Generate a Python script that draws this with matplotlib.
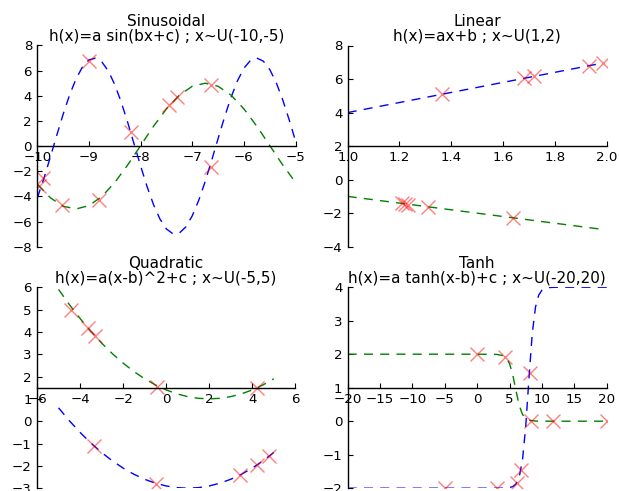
import matplotlib
matplotlib.use("Agg")
import matplotlib.pyplot as plt

# ---------------- data ----------------
titles = [
    "Sinusoidal\nh(x)=a sin(bx+c) ; x~U(-10,-5)",
    "Linear\nh(x)=ax+b ; x~U(1,2)",
    "Quadratic\nh(x)=a(x-b)^2+c ; x~U(-5,5)",
    "Tanh\nh(x)=a tanh(x-b)+c ; x~U(-20,20)",
]

# Sinusoidal
sin_blue_x = [-10 + 0.125 * k for k in range(41)]
sin_blue_y = [-4.126, -2.599, -0.910, 0.835, 2.529, 4.065, 5.349, 6.299, 6.859, 6.992,
              6.690, 5.972, 4.883, 3.490, 1.881, 0.154, -1.582, -3.220, -4.658, -5.806,
              -6.593, -6.970, -6.914, -6.428, -5.542, -4.312, -2.813, -1.140, 0.604, 2.311,
              3.874, 5.196, 6.195, 6.809, 6.999, 6.755, 6.090, 5.047, 3.690, 2.103, 0.386]
sin_green_x = [-10 + 0.25 * k for k in range(21)]
sin_green_y = [-3.026, -4.103, -4.783, -4.999, -4.732, -4.006, -2.892, -1.498, 0.041, 1.577,
               2.959, 4.055, 4.758, 5.000, 4.758, 4.055, 2.959, 1.577, 0.041, -1.498, -2.892]
sin_pts_x = [-9.88, -9.96, -9.52, -8.80, -9.00, -8.18, -7.45, -7.30, -6.63, -6.63]
sin_pts_y = [-2.50, -3.15, -4.70, -4.25, 6.80, 1.10, 3.28, 3.94, 4.88, -1.70]

# Linear
lin_x = [1.0, 1.97]
lin_blue_y = [4.0, 6.91]
lin_green_y = [-1.0, -2.94]
lin_pts_x = [1.363, 1.682, 1.720, 1.933, 1.984, 1.208, 1.222, 1.234, 1.311, 1.640]
lin_pts_y = [5.09, 6.04, 6.16, 6.80, 6.95, -1.42, -1.45, -1.49, -1.63, -2.29]

# Quadratic
quad_x = [-5 + 0.5 * k for k in range(21)]
quad_blue_y = [0.6, 0.025, -0.5, -0.975, -1.4, -1.775, -2.1, -2.375, -2.6, -2.775, -2.9,
               -2.975, -3.0, -2.975, -2.9, -2.775, -2.6, -2.375, -2.1, -1.775, -1.4]
quad_green_y = [5.9, 5.225, 4.6, 4.025, 3.5, 3.025, 2.6, 2.225, 1.9, 1.625, 1.4,
                1.225, 1.1, 1.025, 1.0, 1.025, 1.1, 1.225, 1.4, 1.625, 1.9]
quad_pts_x = [-4.40, -3.62, -3.30, -0.42, 4.22, -3.35, -0.45, 3.44, 4.21, 4.76]
quad_pts_y = [5.00, 4.16, 3.82, 1.54, 1.49, -1.10, -2.80, -2.40, -1.98, -1.58]

# Tanh
tanh_blue_x = [-20, 0, 3, 4, 5, 5.5, 6, 6.5, 7, 7.5, 8, 8.5, 9, 9.5, 10, 10.5, 11, 12, 14, 20]
tanh_blue_y = [-2.0, -2.0, -2.0, -1.998, -1.982, -1.951, -1.869, -1.656, -1.149, -0.140,
               1.299, 2.611, 3.402, 3.765, 3.911, 3.967, 3.988, 3.998, 4.0, 4.0]
tanh_green_x = [-20, 0, 3, 4, 4.5, 5, 5.5, 6, 6.5, 7, 7.5, 8, 9, 10, 20]
tanh_green_y = [2.0, 2.0, 1.994, 1.956, 1.885, 1.716, 1.380, 0.900, 0.463, 0.200, 0.078,
                0.030, 0.004, 0.0, 0.0]
tanh_pts_x = [-0.1, 4.3, 8.3, 11.7, 20.0, 8.15, 6.75, 6.1, 3.0, -5.0]
tanh_pts_y = [2.0, 1.92, 0.02, 0.0, 0.0, 1.45, -1.45, -1.84, -2.0, -2.0]

# ---------------- figure ----------------
plt.rcParams["font.family"] = "DejaVu Sans"
plt.rcParams["axes.unicode_minus"] = True

fig = plt.figure(figsize=(6.19, 4.91), dpi=100)
W, H = 619.0, 491.0

def make_ax(left_px, top_px, w_px, h_px):
    return fig.add_axes([left_px / W, 1 - (top_px + h_px) / H, w_px / W, h_px / H])

axes = [
    make_ax(37.3, 45.5, 258.3, 201.2),
    make_ax(347.7, 45.5, 259.0, 201.2),
    make_ax(37.0, 287.2, 258.3, 201.0),
    make_ax(347.7, 287.2, 259.0, 201.0),
]

BLUE = (0, 0, 1)
GREEN = (0, 0.5, 0)
DASH = (0, (6.5, 5.2))

def style(ax, title, xlim, ylim, xticks, yticks):
    ax.set_xlim(*xlim)
    ax.set_ylim(*ylim)
    ax.set_xticks(xticks)
    ax.set_yticks(yticks)
    ax.spines["top"].set_visible(False)
    ax.spines["right"].set_visible(False)
    ax.spines["bottom"].set_position("center")
    for s in ("left", "bottom"):
        ax.spines[s].set_linewidth(1.0)
    ax.xaxis.set_ticks_position("bottom")
    ax.yaxis.set_ticks_position("left")
    ax.tick_params(direction="in", length=3.6, width=0.8, labelsize=9.6, pad=3.8)
    ax.set_title(title, fontsize=11, pad=3.5, linespacing=0.95)

def draw(ax, bx, by, gx, gy, px, py):
    ax.plot(bx, by, color=BLUE, linestyle=DASH, linewidth=1.0)
    ax.plot(gx, gy, color=GREEN, linestyle=DASH, linewidth=1.0)
    ax.plot(px, py, linestyle="none", marker="x", color="red", alpha=0.5,
            markersize=9.5, markeredgewidth=1.0)

ax = axes[0]
draw(ax, sin_blue_x, sin_blue_y, sin_green_x, sin_green_y, sin_pts_x, sin_pts_y)
style(ax, titles[0], (-10, -5), (-8, 8), [-10, -9, -8, -7, -6, -5], list(range(-8, 9, 2)))

ax = axes[1]
draw(ax, lin_x, lin_blue_y, lin_x, lin_green_y, lin_pts_x, lin_pts_y)
style(ax, titles[1], (1.0, 2.0), (-4, 8), [1.0, 1.2, 1.4, 1.6, 1.8, 2.0], list(range(-4, 9, 2)))

ax = axes[2]
draw(ax, quad_x, quad_blue_y, quad_x, quad_green_y, quad_pts_x, quad_pts_y)
style(ax, titles[2], (-6, 6), (-3, 6), list(range(-6, 7, 2)), list(range(-3, 7)))

ax = axes[3]
draw(ax, tanh_blue_x, tanh_blue_y, tanh_green_x, tanh_green_y, tanh_pts_x, tanh_pts_y)
style(ax, titles[3], (-20, 20), (-2, 4), list(range(-20, 21, 5)), list(range(-2, 5)))

fig.savefig("out.png", dpi=100, facecolor="white")
